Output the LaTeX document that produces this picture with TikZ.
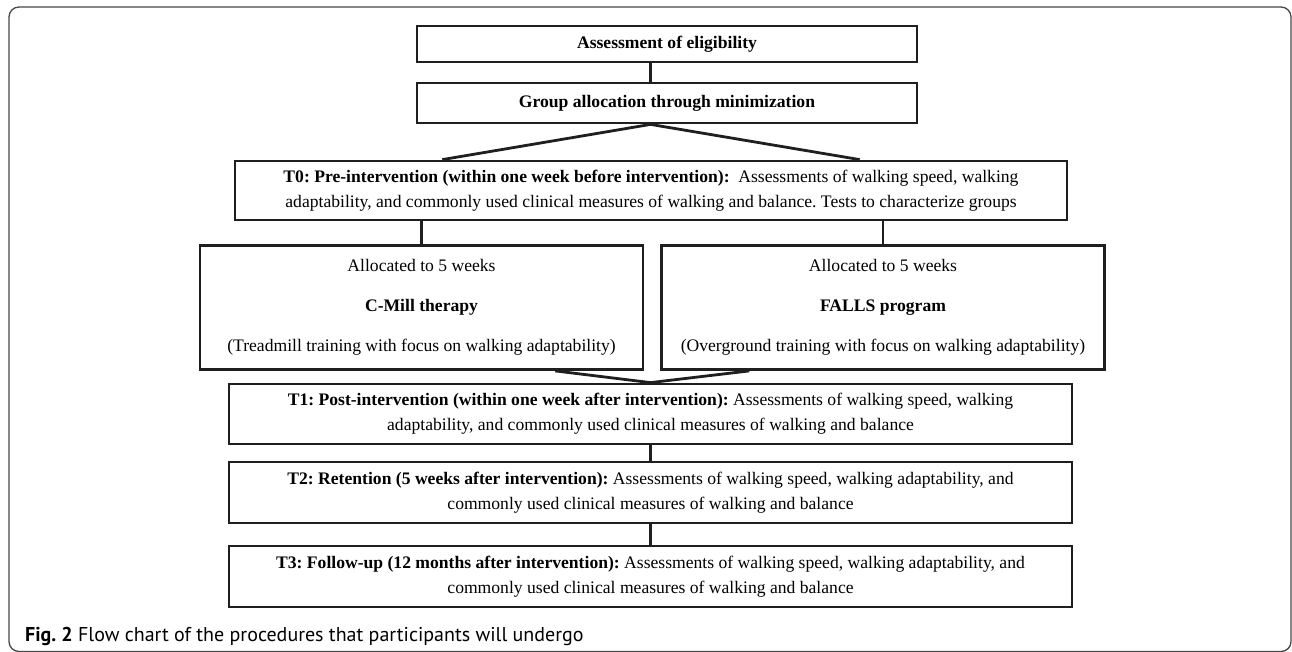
\documentclass[tikz,border=0pt]{standalone}
\usepackage{fontspec}
\setmainfont{Liberation Serif}
\newfontfamily\capfont{PT Sans}
\usetikzlibrary{calc}
\frenchspacing
\colorlet{lnx}{black!88}
\colorlet{frx}{black!72}
\tikzset{
    stage/.style={draw=lnx,line width=2.8pt,inner sep=0pt,align=center,font=\fontsize{17.6}{25}\selectfont},
    arm/.style={stage,font=\fontsize{17.6}{40}\selectfont,minimum width=443,minimum height=124},
    link/.style={lnx,line width=2.8pt}
}

\begin{document}
\begin{tikzpicture}[x=1pt,y=-1pt]
    \useasboundingbox (0,0) rectangle (1292,651);
    \draw [frx,line width=1.3pt,rounded corners=10pt] (9,7) rectangle (1291,651.5);
    \node [stage,minimum width=500,minimum height=36] (elig) at (667,44)
        {\textbf{Assessment of eligibility}};
    \node [stage,minimum width=500,minimum height=40] (group) at (667,103)
        {\textbf{Group allocation through minimization}};
    \node [stage,minimum width=832,minimum height=59] (t0) at (651,190.5)
        {\textbf{T0: Pre-intervention (within one week before intervention):}~ Assessments of walking speed, walking\\
        adaptability, and commonly used clinical measures of walking and balance. Tests to characterize groups};
    \node [arm] (cmill) at (421.5,307.5)
        {Allocated to 5 weeks\\\textbf{C-Mill therapy}\\(Treadmill training with focus on walking adaptability)};
    \node [arm] (falls) at (883,307.5)
        {Allocated to 5 weeks\\\textbf{FALLS program}\\(Overground training with focus on walking adaptability)};
    \node [stage,minimum width=843,minimum height=60] (t1) at (650.5,414)
        {\textbf{T1: Post-intervention (within one week after intervention):} Assessments of walking speed, walking\\
        adaptability, and commonly used clinical measures of walking and balance};
    \node [stage,minimum width=843,minimum height=61] (t2) at (650.5,492.5)
        {\textbf{T2: Retention (5 weeks after intervention):} Assessments of walking speed, walking adaptability, and\\
        commonly used clinical measures of walking and balance};
    \node [stage,minimum width=843,minimum height=61] (t3) at (650.5,576.5)
        {\textbf{T3: Follow-up (12 months after intervention):} Assessments of walking speed, walking adaptability, and\\
        commonly used clinical measures of walking and balance};
    \node [anchor=base west,inner sep=0pt,font=\capfont\fontsize{20}{24}\selectfont] (cap) at (25,641)
        {\textbf{Fig. 2} Flow chart of the procedures that participants will undergo};
    \foreach \a/\b in {elig/group,t1/t2,t2/t3} {
        \draw [link] (\a.south -| t1.north) -- (\b.north -| t1.north);
    }
    \draw [link] ($(t0.north west)!.25!(t0.north east)$) -- (group.south -| t1.north)
        -- ($(t0.north west)!.75!(t0.north east)$);
    \foreach \b in {cmill,falls} {
        \draw [link] (t0.south -| \b.north) -- (\b.north);
    }
    \draw [link] ($(cmill.south west)!.8!(cmill.south east)$) -- (t1.north)
        -- ($(falls.south west)!.2!(falls.south east)$);
\end{tikzpicture}
\end{document}
